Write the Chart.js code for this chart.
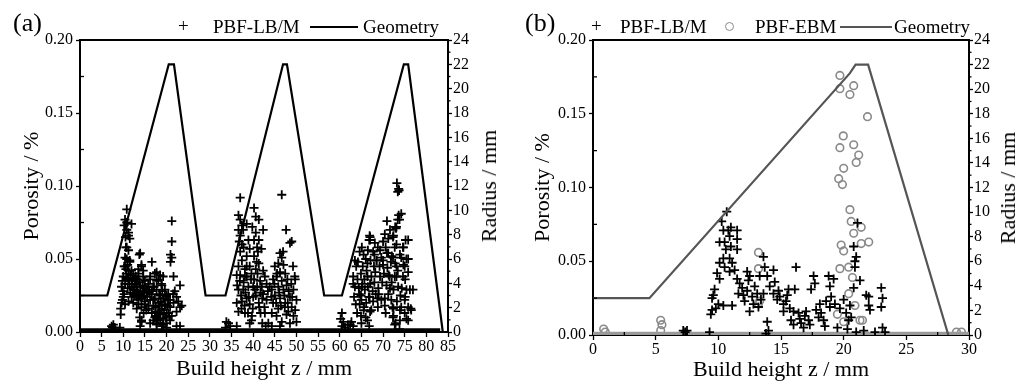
<!DOCTYPE html>
<html><head><meta charset="utf-8">
<script src="https://cdn.jsdelivr.net/npm/chart.js@4.4.1/dist/chart.umd.min.js"></script>
<style>
body{margin:0;background:#fff;width:1029px;height:383px;overflow:hidden;position:relative;font-family:"Liberation Serif",serif;color:#000;}
canvas{position:absolute;top:0;}
#ca{left:0;}
#cb{left:514px;}
.t{position:absolute;line-height:1;white-space:nowrap;}
.pl{font-size:26px;}
.lg{font-size:19px;}
.rt{position:absolute;font-size:22px;line-height:1;white-space:nowrap;transform:translate(-50%,-50%) rotate(-90deg);}
.ln{position:absolute;height:2px;}
.circ{position:absolute;width:7px;height:7px;border:1.5px solid #8a8a8a;border-radius:50%;}
</style></head>
<body>
<canvas id="ca" width="514" height="383"></canvas>
<canvas id="cb" width="515" height="383"></canvas>
<div class="t pl" style="left:13px;top:10px">(a)</div>
<div class="t pl" style="left:525px;top:10px">(b)</div>
<div class="t lg" style="left:178px;top:16px">+</div>
<div class="t lg" style="left:213px;top:17px">PBF-LB/M</div>
<div class="ln" style="left:310px;top:26px;width:48px;background:#000"></div>
<div class="t lg" style="left:363px;top:17px">Geometry</div>
<div class="t lg" style="left:591px;top:16px">+</div>
<div class="t lg" style="left:620px;top:17px">PBF-LB/M</div>
<div class="circ" style="left:725px;top:22px"></div>
<div class="t lg" style="left:755px;top:17px">PBF-EBM</div>
<div class="ln" style="left:840px;top:26px;width:52px;background:#555"></div>
<div class="t lg" style="left:894px;top:17px">Geometry</div>
<div class="rt" style="left:489px;top:186px">Radius / mm</div>
<div class="rt" style="left:1008px;top:188px">Radius / mm</div>
<script>
// ---------- Panel (a) data ----------
const xTicksA = [0,5,10,15,20,25,30,35,40,45,50,55,60,65,70,75,80,85];
const xMinorA = [2.5,7.5,12.5,17.5,22.5,27.5,32.5,37.5,42.5,47.5,52.5,57.5,62.5,67.5,72.5,77.5,82.5];
const yTicks = [0,0.05,0.10,0.15,0.20];
const yMinor = [0.025,0.075,0.125,0.175];
const rTicks = [0,2,4,6,8,10,12,14,16,18,20,22,24];
const rMinor = [1,3,5,7,9,11,13,15,17,19,21,23];

const geomA = [[0,3],[6.3,3],[20.5,22],[21.7,22],[29.0,3],[33.6,3],[46.9,22],[47.8,22],[56.4,3],[60.5,3],[74.8,22],[75.8,22],[83.8,0]];
const baseA = [[0,0.0012],[83.2,0.0012]];

const lbA1 = [
[10.8,0.084],[10.4,0.077],[10.8,0.075],[11.9,0.074],[11.2,0.068],[11.5,0.064],[10.6,0.058],[11.2,0.056],[10.8,0.050],[11.5,0.048],
[10.4,0.045],[11.9,0.042],[10.0,0.038],[11.2,0.036],[12.3,0.037],[9.6,0.031],[9.9,0.028],[10.0,0.024],[9.6,0.020],[9.4,0.016],[9.4,0.012],
[10.2,0.073],[10.5,0.065],[10.8,0.070],[11.2,0.066],[10.8,0.058],[10.4,0.051],[11.5,0.049],[10.2,0.045],[10.6,0.043],[11.2,0.042],
[9.8,0.035],[10.4,0.033],[10.9,0.037],[10.2,0.026],[9.8,0.022],[10.4,0.019],[11.2,0.021],[11.9,0.033],[12.3,0.029],[11.9,0.024],
[13.9,0.054],[13.7,0.053],[14.2,0.046],[13.5,0.043],[14.6,0.038],[13.1,0.033],[13.9,0.031],[15.0,0.030],[12.7,0.025],[13.5,0.022],
[14.2,0.024],[15.4,0.027],[12.3,0.020],[13.1,0.016],[14.2,0.008],[13.9,0.004],[12.3,0.040],[12.9,0.038],[13.5,0.040],[14.2,0.045],
[14.6,0.042],[12.7,0.033],[13.1,0.031],[13.8,0.034],[14.5,0.032],[15.0,0.035],[12.3,0.026],[13.1,0.024],[13.7,0.026],[14.2,0.023],
[14.8,0.025],[15.4,0.029],[13.5,0.019],[14.2,0.017],[15.0,0.021],[15.8,0.018],[13.8,0.010],[14.2,0.007],[15.8,0.033],[16.2,0.038],
[16.6,0.048],[11.6,0.039],[12.0,0.035],[11.0,0.030],[11.6,0.027],[12.6,0.029],[13.3,0.028],[14.0,0.027],[14.6,0.028],[12.0,0.031],
[11.4,0.033],[12.8,0.036],[13.4,0.036],[14.9,0.019],[15.3,0.015],[14.7,0.013],[15.5,0.024],[16.0,0.027],[10.7,0.040],[11.0,0.046],
[16.2,0.036],[15.8,0.031],[16.6,0.028],[16.9,0.031],[17.3,0.023],[16.2,0.022],[15.8,0.016],[16.6,0.013],[16.9,0.008],[17.7,0.011],[16.2,0.006],
[17.7,0.041],[18.5,0.039],[19.2,0.038],[18.1,0.036],[18.9,0.032],[19.6,0.029],[17.7,0.029],[18.5,0.025],[19.2,0.023],[20.0,0.025],
[18.1,0.020],[18.9,0.016],[19.6,0.019],[20.4,0.022],[18.5,0.012],[19.2,0.009],[20.0,0.013],[20.8,0.017],[17.7,0.005],[18.9,0.004],
[20.0,0.006],[20.8,0.008],[17.3,0.040],[17.7,0.035],[17.1,0.031],[18.3,0.026],[18.8,0.033],[20.0,0.024],[16.5,0.026],[16.9,0.022],
[17.5,0.017],[18.1,0.013],[18.5,0.008],[19.2,0.005],[17.3,0.010],[17.7,0.006],[18.8,0.015],[19.6,0.018],[20.4,0.013],[20.0,0.003],
[17.0,0.018],[17.4,0.014],[18.0,0.009],[18.3,0.018],[18.7,0.021],[19.4,0.013],[19.8,0.010],[20.2,0.018],[20.6,0.011],[19.0,0.028],
[21.2,0.076],[21.2,0.062],[20.9,0.053],[21.2,0.051],[20.9,0.048],[21.6,0.038],[21.9,0.028],[22.3,0.024],[23.1,0.032],[22.7,0.021],
[23.1,0.017],[21.6,0.020],[22.3,0.014],[21.2,0.011],[23.1,0.004],[22.3,0.004],[21.5,0.026],[20.8,0.022],[20.4,0.026],[23.5,0.018],
[7.3,0.004],[7.7,0.005],[7.5,0.003],[8.0,0.003],[9.2,0.003]
];
const lbA2 = [
[37.0,0.092],[36.6,0.080],[37.0,0.077],[37.4,0.073],[36.6,0.070],[37.7,0.070],[37.0,0.066],[38.5,0.074],
[37.4,0.060],[37.0,0.055],[38.9,0.063],[39.2,0.057],[38.5,0.052],[37.4,0.049],[36.6,0.045],[38.1,0.043],[39.2,0.045],[37.0,0.039],
[38.5,0.038],[39.5,0.036],[36.6,0.029],[37.7,0.029],[38.9,0.031],[40.0,0.031],[36.2,0.020],[37.4,0.021],[38.5,0.023],[39.2,0.019],
[40.0,0.024],[36.6,0.014],[38.1,0.013],[39.7,0.011],[39.2,0.006],[34.3,0.006],[34.7,0.004],[36.2,0.004],[33.8,0.007],[33.6,0.003],
[36.3,0.032],[36.2,0.039],[38.1,0.038],[38.5,0.045],[38.8,0.013],[37.3,0.016],[39.6,0.008],[40.4,0.029],
[37.8,0.034],[38.2,0.027],[39.0,0.024],[37.2,0.025],[36.9,0.035],[39.6,0.040],[38.0,0.018],[39.9,0.016],[37.8,0.058],[36.8,0.062],
[40.2,0.085],[40.6,0.079],[41.3,0.077],[39.8,0.072],[40.6,0.068],[40.2,0.063],[41.3,0.063],[40.9,0.058],[40.2,0.052],[41.3,0.047],
[40.6,0.043],[40.2,0.036],[40.9,0.031],[41.7,0.027],[40.6,0.025],[41.3,0.020],[42.1,0.023],[41.7,0.013],[42.1,0.006],[42.9,0.004],
[42.3,0.070],[41.9,0.057],[42.3,0.042],[42.7,0.038],[43.1,0.033],[42.3,0.026],[43.1,0.022],[42.7,0.013],[43.5,0.006],
[41.0,0.040],[41.6,0.035],[42.0,0.031],[41.1,0.055],[40.8,0.048],[42.6,0.017],[43.4,0.028],[41.4,0.017],
[46.6,0.094],[47.6,0.070],[48.9,0.062],[48.5,0.061],
[46.2,0.054],[46.6,0.051],[45.8,0.047],[47.0,0.046],[45.0,0.045],[46.2,0.041],[45.4,0.038],[47.4,0.040],[44.6,0.036],[46.6,0.035],
[45.8,0.031],[47.7,0.032],[44.3,0.029],[47.0,0.029],[45.0,0.025],[46.2,0.023],[48.5,0.024],[49.7,0.036],[49.3,0.029],[50.0,0.022],
[44.6,0.020],[45.8,0.016],[47.4,0.020],[48.9,0.017],[49.7,0.015],[44.3,0.013],[45.4,0.011],[47.7,0.012],[49.3,0.011],[46.6,0.007],
[48.5,0.006],[50.0,0.007],[44.3,0.004],[46.2,0.004],[43.8,0.031],[44.2,0.024],[49.2,0.045],[49.6,0.038],[48.8,0.033],[48.1,0.014],
[47.3,0.017],[45.5,0.040],[46.9,0.055],[46.0,0.027],[47.2,0.025],[48.2,0.028],[48.0,0.020],[45.3,0.020],[44.9,0.033],[46.4,0.018],
[49.0,0.024],[47.9,0.036]
];
const lbA3 = [
[73.2,0.102],[73.6,0.098],[73.4,0.096],[73.7,0.097],
[73.6,0.080],[73.4,0.077],[70.9,0.076],[72.8,0.072],[71.6,0.070],[73.0,0.071],[72.4,0.066],[71.2,0.064],[75.2,0.063],[67.0,0.065],
[67.0,0.063],[65.1,0.058],[68.1,0.061],[70.0,0.062],[73.1,0.060],[74.7,0.058],
[64.6,0.055],[65.5,0.053],[67.7,0.055],[69.3,0.056],[70.9,0.054],[72.0,0.052],[73.9,0.053],[75.8,0.050],[64.2,0.048],[65.3,0.045],
[66.4,0.047],[68.5,0.049],[70.0,0.046],[72.8,0.047],[74.7,0.046],[64.9,0.040],[66.4,0.038],[68.2,0.041],[69.3,0.038],[71.3,0.039],
[73.1,0.038],[75.1,0.036],[63.1,0.033],[65.1,0.031],[67.0,0.033],[68.9,0.030],[70.8,0.032],[72.4,0.029],[74.3,0.030],[76.9,0.029],
[64.9,0.025],[66.7,0.024],[68.7,0.023],[70.4,0.023],[75.1,0.024],[64.6,0.019],[65.6,0.017],[67.0,0.014],[70.6,0.013],[72.4,0.016],
[73.9,0.015],[75.8,0.017],[76.4,0.016],[64.9,0.011],[66.4,0.008],[72.4,0.011],[73.9,0.008],[75.4,0.009],[72.7,0.005],[66.8,0.004],
[60.5,0.013],[60.2,0.009],[60.8,0.007],[60.5,0.004],[62.4,0.005],[63.1,0.004],[65.0,0.006],[61.2,0.003],[61.9,0.005],[62.7,0.007],
[76.2,0.029],[76.5,0.015],[75.8,0.041],[75.4,0.050],[75.8,0.063],[74.6,0.058],[75.0,0.045],[74.6,0.038],[75.4,0.029],[75.0,0.022],
[75.0,0.013],[75.8,0.008],[63.5,0.049],[63.8,0.045],[63.1,0.038],[63.5,0.031],[63.3,0.024],[63.7,0.019],[64.0,0.013],[66.9,0.066],
[66.8,0.063],[68.8,0.058],[68.5,0.049],[69.2,0.045],[68.3,0.026],[69.6,0.022],[68.8,0.017],[70.4,0.067],[70.6,0.058],[71.2,0.054],
[70.0,0.049],[71.5,0.038],[71.2,0.026],[71.9,0.022],[72.3,0.065],[73.1,0.072],[72.7,0.058],[72.3,0.051],[73.1,0.045],[72.7,0.038],
[73.5,0.031],[72.2,0.017],[72.3,0.010],[72.9,0.006],[74.2,0.081],[73.8,0.077],[74.2,0.051],[74.2,0.017],[73.8,0.002],[65.8,0.029],
[65.2,0.033],[64.5,0.026],[65.0,0.022],[65.5,0.015],[66.0,0.010],[66.5,0.056],[67.1,0.049],[66.2,0.042],[67.3,0.038],[66.5,0.031],
[66.9,0.024],[67.7,0.021],[67.3,0.015],[64.1,0.036],[64.4,0.030],[65.7,0.036],[66.1,0.020],[67.6,0.028],[68.0,0.034],[69.8,0.034],
[70.2,0.040],[71.0,0.044],[69.6,0.051],[68.0,0.053],[71.8,0.048],[72.0,0.034],[73.4,0.042],[74.0,0.025],[71.6,0.030],[69.0,0.026],
[67.9,0.045],[66.0,0.050],[70.4,0.018],[73.2,0.021]
];

// ---------- Panel (b) data ----------
const xTicksB = [0,5,10,15,20,25,30];
const xMinorB = [2.5,7.5,12.5,17.5,22.5,27.5];
const geomB = [[0,3],[4.5,3],[20.5,21.3],[20.95,22],[21.95,22],[28.35,0]];
const baseB = [[0,0.0011],[30,0.0011]];
const lbB = [
[10.67,0.0836],[10.27,0.077],[10.4,0.071],[10.8,0.071],[11.5,0.071],[10.1,0.063],[10.5,0.063],[10.9,0.067],[11.5,0.065],[11.0,0.060],
[10.6,0.058],[11.5,0.058],[10.4,0.052],[10.9,0.052],[10.1,0.049],[10.5,0.046],[11.1,0.049],[10.9,0.043],[11.3,0.044],[9.9,0.042],
[10.1,0.038],[9.7,0.031],[9.6,0.027],[9.5,0.025],[9.5,0.017],[9.4,0.014],[9.8,0.018],[10.0,0.021],[10.4,0.020],[11.1,0.020],
[11.5,0.038],[11.7,0.035],[11.9,0.032],[11.6,0.028],[12.0,0.027],[12.3,0.030],[12.3,0.043],[12.4,0.037],[12.5,0.040],[12.1,0.023],
[12.5,0.016],[12.7,0.026],[12.9,0.033],[13.1,0.028],[13.2,0.019],[13.3,0.040],[13.4,0.024],[13.6,0.053],[13.7,0.046],[13.9,0.040],
[13.6,0.028],[13.9,0.009],[14.0,0.003],[14.1,0.033],[14.4,0.044],[14.5,0.036],[14.4,0.028],[14.7,0.024],[14.9,0.026],[15.2,0.021],
[15.4,0.023],[15.7,0.018],[15.2,0.016],[15.6,0.031],[16.0,0.016],[16.1,0.031],[16.2,0.046],[15.8,0.010],[16.0,0.007],[16.4,0.015],
[16.5,0.011],[16.6,0.008],[16.8,0.005],[17.0,0.016],[17.2,0.010],[17.3,0.007],[17.4,0.031],[17.6,0.040],[17.7,0.035],[17.8,0.017],
[18.1,0.021],[18.2,0.015],[18.4,0.010],[18.5,0.006],[18.8,0.040],[18.9,0.033],[19.0,0.026],[18.9,0.019],[18.6,0.023],[19.2,0.038],
[19.3,0.021],[19.7,0.018],[20.0,0.024],[20.2,0.015],[20.4,0.010],[20.5,0.020],[20.6,0.012],[20.8,0.032],[20.9,0.050],[21.0,0.053],
[20.8,0.060],[21.1,0.076],[20.9,0.046],[21.3,0.037],[21.8,0.027],[22.0,0.020],[22.1,0.017],[22.0,0.026],[23.0,0.032],[23.1,0.025],
[23.0,0.019],[23.1,0.005],[7.2,0.003],[7.35,0.002],[7.5,0.003],[21.6,0.003],[11.0,0.073],[12.8,0.021],[14.8,0.030],[15.5,0.027],
[16.9,0.013],[18.0,0.012],[19.5,0.005],[20.3,0.004],[21.0,0.002],[22.5,0.002],[23.3,0.002],[9.3,0.002],[13.8,0.001]
];
const ebmB = [
[19.7,0.176],[19.7,0.167],[20.8,0.169],[20.5,0.163],[21.9,0.148],[19.97,0.135],[19.7,0.127],[20.8,0.129],[21.2,0.122],[21.0,0.117],
[20.0,0.113],[19.6,0.106],[19.9,0.102],[20.5,0.085],[20.6,0.077],[21.4,0.073],[20.8,0.069],[21.4,0.062],[22.0,0.063],[19.8,0.061],
[20.0,0.057],[19.7,0.045],[20.4,0.046],[20.7,0.039],[20.4,0.028],[20.9,0.020],[19.5,0.014],[21.3,0.010],[21.5,0.010],[20.0,0.009],
[13.2,0.056],[13.2,0.045],[13.3,0.023],[13.2,0.021],[5.4,0.010],[5.5,0.007],[5.4,0.003],[0.85,0.004],[0.98,0.002],[29.0,0.002],[29.4,0.002]
];

const toXY = a => a.map(p => ({x:p[0], y:p[1]}));
const FONT = "'Liberation Serif', serif";

const frameTicks = {
  id:'frameTicks',
  afterDraw(chart, args, opts){
    const ctx = chart.ctx, a = chart.chartArea;
    ctx.save();
    ctx.strokeStyle = '#000';
    ctx.lineWidth = 2;
    ctx.beginPath(); ctx.moveTo(a.left-1, a.top); ctx.lineTo(a.right+1, a.top); ctx.stroke();
    ctx.lineWidth = 1.3;
    for (const [id, vals, len] of opts.list) {
      const s = chart.scales[id];
      for (const v of vals) {
        const p = s.getPixelForValue(v);
        ctx.beginPath();
        if (s.isHorizontal()) { ctx.moveTo(p, a.bottom); ctx.lineTo(p, a.bottom - len); }
        else if (s.position === 'left') { ctx.moveTo(a.left, p); ctx.lineTo(a.left + len, p); }
        else { ctx.moveTo(a.right, p); ctx.lineTo(a.right + len, p); }
        ctx.stroke();
      }
    }
    ctx.restore();
  }
};

function axisCommon(){
  return {
    grid:{drawOnChartArea:false, drawTicks:true, tickLength:4, tickColor:'#000', tickWidth:1.3},
    border:{display:true, color:'#000', width:2}
  };
}

function makeChart(el, cfg){
  const xs = Object.assign(axisCommon(), {
    type:'linear', min:cfg.xmin, max:cfg.xmax,
    afterBuildTicks: s => { s.ticks = cfg.xticks.map(v => ({value:v})); },
    afterFit: s => { s.height = cfg.bottomH; },
    ticks:{color:'#000', font:{family:FONT, size:16}, padding:0, maxRotation:0, autoSkip:false, callback:v => String(v)},
    title:{display:true, text:'Build height z / mm', color:'#000', font:{family:FONT, size:22}, padding:{top:0,bottom:cfg.xTitlePad}}
  });
  xs.grid.tickLength = 5;
  const ys = Object.assign(axisCommon(), {
    type:'linear', position:'left', min:0, max:0.2,
    afterBuildTicks: s => { s.ticks = yTicks.map(v => ({value:v})); },
    afterFit: s => { s.width = cfg.leftW; },
    ticks:{color:'#000', font:{family:FONT, size:16}, padding:3, callback:v => v.toFixed(2)},
    title:{display:true, text:'Porosity / %', color:'#000', font:{family:FONT, size:22}, padding:{top:cfg.yTitlePad,bottom:0}}
  });
  const rs = Object.assign(axisCommon(), {
    type:'linear', position:'right', min:0, max:24,
    afterBuildTicks: s => { s.ticks = rTicks.map(v => ({value:v})); },
    afterFit: s => { s.width = cfg.rightW; },
    ticks:{color:'#000', font:{family:FONT, size:16}, padding:1, callback:v => String(v)},
    title:{display:false}
  });
  return new Chart(document.getElementById(el), {
    type:'scatter',
    data:{datasets:cfg.datasets},
    options:{
      responsive:false, animation:false, devicePixelRatio:1,
      layout:{padding:{top:40, left:0, right:0, bottom:0}},
      plugins:{legend:{display:false}, tooltip:{enabled:false},
        frameTicks:{list:[['x', cfg.xminor, 3], ['y', yMinor, 4], ['y1', rMinor, 2.5]]}},
      scales:{x:xs, y:ys, y1:rs}
    },
    plugins:[frameTicks]
  });
}

const crossStyle = (color) => ({pointStyle:'cross', pointRadius:4.5, pointBorderWidth:1.8, borderColor:color, backgroundColor:color, showLine:false});

makeChart('ca', {
  xmin:0, xmax:85, xticks:xTicksA, xminor:xMinorA,
  bottomH:51, leftW:80, rightW:66, xTitlePad:1, yTitlePad:19,
  datasets:[
    {label:'Geometry', data:toXY(geomA), yAxisID:'y1', showLine:true, borderColor:'#000', borderWidth:2.2, pointRadius:0, fill:false, tension:0},
    {label:'PBF-LB/M baseline', data:toXY(baseA), yAxisID:'y', showLine:true, borderColor:'#000', borderWidth:4, pointRadius:0, fill:false},
    Object.assign({label:'PBF-LB/M', data:toXY(lbA1.concat(lbA2, lbA3)), yAxisID:'y'}, crossStyle('#000'))
  ]
});

makeChart('cb', {
  xmin:0, xmax:30, xticks:xTicksB, xminor:xMinorB,
  bottomH:48, leftW:79, rightW:60, xTitlePad:0, yTitlePad:16,
  datasets:[
    {label:'Geometry', data:toXY(geomB), yAxisID:'y1', showLine:true, borderColor:'#555', borderWidth:2.2, pointRadius:0, fill:false, tension:0},
    Object.assign({label:'PBF-LB/M', data:toXY(lbB), yAxisID:'y'}, crossStyle('#000')),
    {label:'PBF-EBM baseline', data:toXY(baseB), yAxisID:'y', showLine:true, borderColor:'#9a9a9a', borderWidth:3.5, pointRadius:0, fill:false},
    {label:'PBF-EBM', data:toXY(ebmB), yAxisID:'y', showLine:false, pointStyle:'circle', pointRadius:3.8, pointBorderWidth:1.6, borderColor:'#8a8a8a', backgroundColor:'rgba(0,0,0,0)'}
  ]
});
</script>
</body></html>
